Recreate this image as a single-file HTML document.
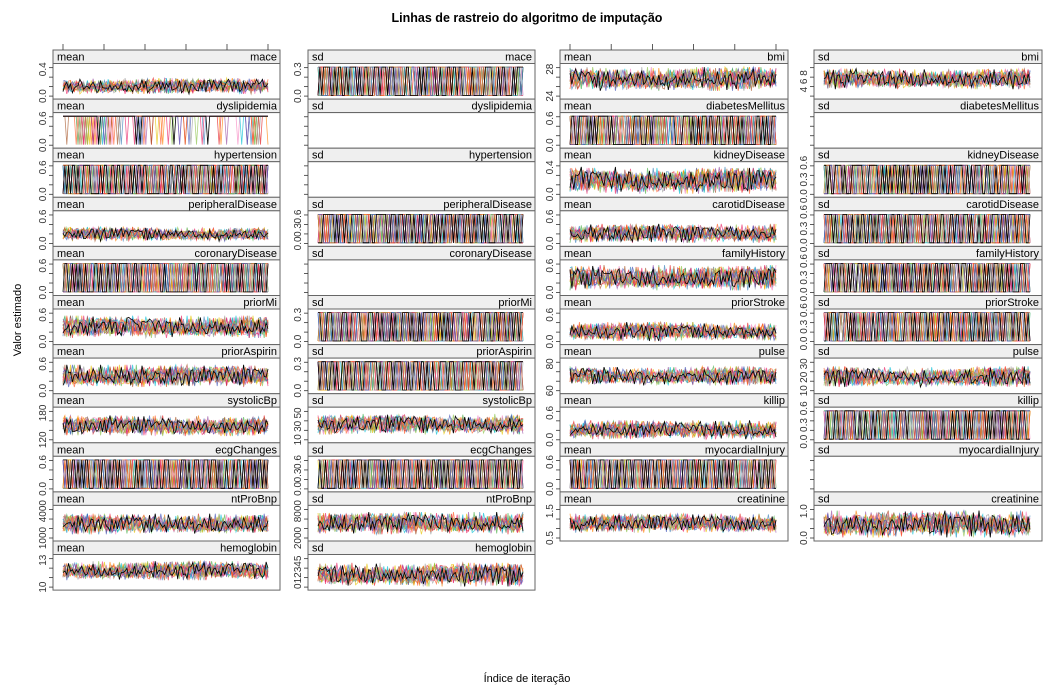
<!DOCTYPE html>
<html><head><meta charset="utf-8">
<style>
html,body{margin:0;padding:0;background:#fff;}
svg{display:block;font-family:"Liberation Sans",sans-serif;}
</style></head>
<body>
<svg id="chart" width="1055" height="693" viewBox="0 0 1055 693" xmlns="http://www.w3.org/2000/svg">
<text x="527" y="22" text-anchor="middle" font-size="12.5" font-weight="bold">Linhas de rastreio do algoritmo de imputação</text>
<text x="0" y="0" transform="translate(21,320) rotate(-90)" text-anchor="middle" font-size="11">Valor estimado</text>
<text x="527" y="682" text-anchor="middle" font-size="11">Índice de iteração</text>
<g id="panels"></g>
</svg>
<script>
const panelStats = ["mean","sd","mean","sd"];
const col1Vars = ["mace","dyslipidemia","hypertension","peripheralDisease","coronaryDisease","priorMi","priorAspirin","systolicBp","ecgChanges","ntProBnp","hemoglobin"];
const col1Kinds = ["noise","sparse","binary","noise","binary","noise","noise","noise","binary","noise","noise"];
const col1Ticks = [["0.0","0.4"],["0.0","0.6"],["0.0","0.6"],["0.0","0.6"],["0.0","0.6"],["0.0","0.6"],["0.0","0.6"],["120","180"],["0.0","0.6"],["1000","4000"],["10","13"]];
const col1Bands = [[0.1,0.6],[0.05,0.95],[0.05,0.95],[0.1,0.55],[0.05,0.95],[0.15,0.85],[0.15,0.85],[0.15,0.8],[0.05,0.95],[0.15,0.8],[0.25,0.85]];
const col2Vars = ["mace","dyslipidemia","hypertension","peripheralDisease","coronaryDisease","priorMi","priorAspirin","systolicBp","ecgChanges","ntProBnp","hemoglobin"];
const col2Kinds = ["binary","empty","empty","binary","empty","binary","binary","noise","binary","noise","noise"];
const col2Ticks = [["0.0","0.3"],[],[],["0.0","0.3","0.6"],[],["0.0","0.3"],["0.0","0.3"],["10","30","50"],["0.0","0.3","0.6"],["2000","8000"],["012345"]];
const col2Bands = [[0.05,0.95],[0,0],[0,0],[0.05,0.95],[0,0],[0.05,0.95],[0.05,0.95],[0.2,0.85],[0.05,0.95],[0.15,0.85],[0.05,0.8]];
const col3Vars = ["bmi","diabetesMellitus","kidneyDisease","carotidDisease","familyHistory","priorStroke","pulse","killip","myocardialInjury","creatinine"];
const col3Kinds = ["noise","binary","noise","noise","noise","noise","noise","noise","binary","noise"];
const col3Ticks = [["24","28"],["0.0","0.6"],["0.0","0.4"],["0.0","0.6"],["0.0","0.6"],["0.0","0.6"],["60","80"],["0.0","0.6"],["0.0","0.6"],["0.5","1.5"]];
const col3Bands = [[0.2,0.95],[0.05,0.95],[0.05,0.9],[0.05,0.65],[0.1,0.9],[0.05,0.65],[0.2,0.8],[0.05,0.65],[0.05,0.95],[0.2,0.8]];
const col4Vars = ["bmi","diabetesMellitus","kidneyDisease","carotidDisease","familyHistory","priorStroke","pulse","killip","myocardialInjury","creatinine"];
const col4Kinds = ["noise","empty","binary","binary","binary","binary","noise","binary","empty","noise"];
const col4Ticks = [["4 6 8"],[],["0.0 0.3 0.6"],["0.0 0.3 0.6"],["0.0 0.3 0.6"],["0.0 0.3 0.6"],["10","20","30"],["0.0 0.3 0.6"],[],["0.0","1.0"]];
const col4Bands = [[0.25,0.9],[0,0],[0.05,0.95],[0.05,0.95],[0.05,0.95],[0.05,0.95],[0.15,0.8],[0.05,0.95],[0,0],[0.05,0.9]];
// hand-entered trace digits (0-9), read as noisy chain values
const traceDigits = "3817264950284617390528461937205846193702584619370258461937028416593072841659307284165930728416593072841653"
 + "9172038465291837046529183704652918370465291837046529137804659213780465921378046592137804659213780465921378"
 + "5063918274056391827405639182740563918274051638297405163829740516382974051638297405163829740516382974051632";
const chainColors = ["#e41a1c","#377eb8","#4daf4a","#984ea3","#ff7f00","#e6c200","#a65628","#f781bf","#00bcd4","#e91e63","#8bc34a","#9e9e9e","#ff5722","#3f51b5","#000000"];
const nIter = 110;

const colLefts=[53,308,560,814], colRights=[280,535,788,1042];
const svg=document.getElementById('panels');
const NS="http://www.w3.org/2000/svg";
function mk(tag,attrs,parent){const e=document.createElementNS(NS,tag);for(const k in attrs)e.setAttribute(k,attrs[k]);(parent||svg).appendChild(e);return e;}
const rowH=49.1, top0=50, stripH=13.5;
function xScale(c,i){const l=colLefts[c]+10,r=colRights[c]-12;return l+(r-l)*i/(nIter-1);}
function digit(k){return +traceDigits[k%traceDigits.length];}

const cols=[[col1Vars,col1Kinds,col1Ticks,col1Bands],[col2Vars,col2Kinds,col2Ticks,col2Bands],[col3Vars,col3Kinds,col3Ticks,col3Bands],[col4Vars,col4Kinds,col4Ticks,col4Bands]];
cols.forEach((cd,c)=>{
  const [vars,kinds,ticks,bands]=cd;
  vars.forEach((v,r)=>{
    const L=colLefts[c],R=colRights[c],T=top0+r*rowH,PT=T+stripH,PB=T+rowH;
    const g=mk('g',{});
    
    
    const st=mk('rect',{x:L,y:T,width:R-L,height:stripH,fill:'#efefef',stroke:'#666','stroke-width':1},g);
    
    
    const t1=mk('text',{x:L+4,y:T+10.5,'font-size':11},g);t1.textContent=panelStats[c];
    
    const t2=mk('text',{x:R-3,y:T+10.5,'font-size':11,'text-anchor':'end'},g);t2.textContent=v;
    
    mk('rect',{x:L,y:PT,width:R-L,height:PB-PT,fill:'#fff',stroke:'#666','stroke-width':1},g);
    const kind=kinds[r];
    const h=PB-PT-4, base=PB-2;
    if(kind!=='empty'){
      const [blo,bhi]=bands[r];
      chainColors.forEach((col,ch)=>{
        let pts=[];
        for(let i=0;i<nIter;i++){
          const d=digit(i*37+ch*101+r*53+c*17);
          const d2=digit(i*13+ch*59+r*29+c*7+3);
          let f;
          if(kind==='noise'){f=blo+(bhi-blo)*((2*d+d2)/27);}
          else if(kind==='binary'){f=((d+d2)%10)>4?bhi:blo;}
          else {f=(d===0&&d2>4)?blo:bhi;}
          pts.push(xScale(c,i).toFixed(1)+','+(base-h*f).toFixed(1));
        }
        const pl=mk('polyline',{points:pts.join(' '),fill:'none',stroke:col,'stroke-width':0.8,'stroke-opacity':ch===14?1:0.7},g);
        
        
      });
    }
    const tl=ticks[r];
    const n=4;
    for(let k=0;k<n;k++){const y=base-(h*0.9)*k/(n-1)-1;mk('line',{x1:L-4,x2:L,y1:y,y2:y,stroke:'#333','stroke-width':0.8},g);}
    tl.forEach((lab,k)=>{
      const y=tl.length===1?(PT+PB)/2:base-1-(h*0.85)*k/(tl.length-1);
      const tx=mk('text',{x:0,y:0,transform:`translate(${L-7},${y}) rotate(-90)`,'font-size':10,'text-anchor':'middle',fill:'#333'},g);
      tx.textContent=lab;
      
      
    });
  });
});
[0,2].forEach(c=>{
  for(let k=0;k<6;k++){
    const x=xScale(c,0)+(xScale(c,nIter-1)-xScale(c,0))*k/5;
    const tk=mk('line',{x1:x,x2:x,y1:44,y2:50,stroke:'#333','stroke-width':0.8});
    
    
  }
});
</script>
</body></html>
